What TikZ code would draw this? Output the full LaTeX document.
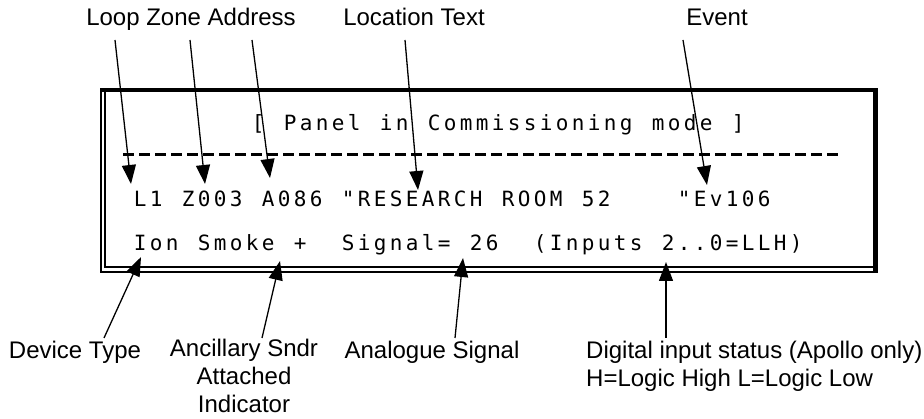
\documentclass[tikz,border=0pt]{standalone}
\usepackage{fontspec}
\setmainfont{Liberation Sans}
\newfontfamily\lcdfont{DejaVu Sans Mono}
\usetikzlibrary{arrows.meta}
\makeatletter
% one 16pt cell per character of the display
\def\lcd@end{\lcd@end}
\def\lcd#1{\lcd@a#1\lcd@end}
\def\lcd@a{\futurelet\lcd@next\lcd@b}
\def\lcd@b{\ifx\lcd@next\lcd@end \let\lcd@do\@gobble
  \else\ifx\lcd@next\@sptoken \let\lcd@do\lcd@sp
  \else \let\lcd@do\lcd@ch \fi\fi \lcd@do}
\def\lcd@ch#1{\makebox[16pt][c]{#1}\lcd@a}
\expandafter\def\expandafter\lcd@sp\space{\makebox[16pt]{}\lcd@a}
\makeatother
\begin{document}
\begin{tikzpicture}[x=1pt,y=-1pt,
  lbl/.style={font=\fontsize{24}{28}\selectfont, inner sep=0pt, align=center, anchor=base},
  lcd/.style={font=\fontsize{21}{21}\lcdfont, inner sep=0pt, anchor=base west},
  pointer/.style={line width=1.3pt, -{Triangle[length=19pt,width=14pt]}}]
 \useasboundingbox (0,0) rectangle (924,419);
 % panel frame
 \draw[line width=1.3pt] (101,89) rectangle (877,272);
 \draw[line width=1.3pt] (105,92) -- (105,267) -- (873,267);
 \draw[line width=3.5pt] (101,90.5) -- (877,90.5);
 \draw[line width=3.5pt] (875,89) -- (875,272);
 \draw[line width=3pt, dash pattern=on 11pt off 5pt] (123,155) -- (840,155);
 %
 \node[lcd] (mode) at (138,131) {\lcd{~~~~~~~[ Panel in Commissioning mode ]}};
 \node[lcd] (row1) at (132,207) {\lcd{L1 Z003 A086 "RESEARCH ROOM 52~~~ "Ev106}};
 \node[lcd] (row2) at (132,251) {\lcd{Ion Smoke +~ Signal= 26~ (Inputs 2..0=LLH)}};
 %
 \node[lbl] (lza) at (191,26) {Loop Zone Address};
 \node[lbl] (loctext) at (414,26) {Location Text};
 \node[lbl] (event) at (717,26) {Event};
 \node[lbl] (devtype) at (75,359) {Device Type};
 \node[lbl] (ancil) at (244,413) {Ancillary Sndr\\Attached\\Indicator};
 \node[lbl] (analogue) at (432,359) {Analogue Signal};
 \node[lbl, align=left, anchor=base west] (digital) at (586,387) {Digital input status (Apollo only)\\H=Logic High L=Logic Low};
 %
 \coordinate (loopA) at (115,40);  \coordinate (loopB) at (131,184);
 \coordinate (zoneA) at (190,40);  \coordinate (zoneB) at (205,184);
 \coordinate (addrA) at (252,40);  \coordinate (addrB) at (270,178);
 \coordinate (locA) at (405,40);   \coordinate (locB) at (418,190);
 \coordinate (evA) at (683,40);    \coordinate (evB) at (707,185);
 \coordinate (devA) at (104,338);  \coordinate (devB) at (141,257);
 \coordinate (ancA) at (262,338);  \coordinate (ancB) at (280,261);
 \coordinate (anaA) at (455,338);  \coordinate (anaB) at (463,258);
 \coordinate (digA) at (666,338);  \coordinate (digB) at (666,262);
 \foreach \a in {loop,zone,addr,loc,ev,dev,anc,ana,dig}
  \draw[pointer] (\a A) -- (\a B);
\end{tikzpicture}
\end{document}
